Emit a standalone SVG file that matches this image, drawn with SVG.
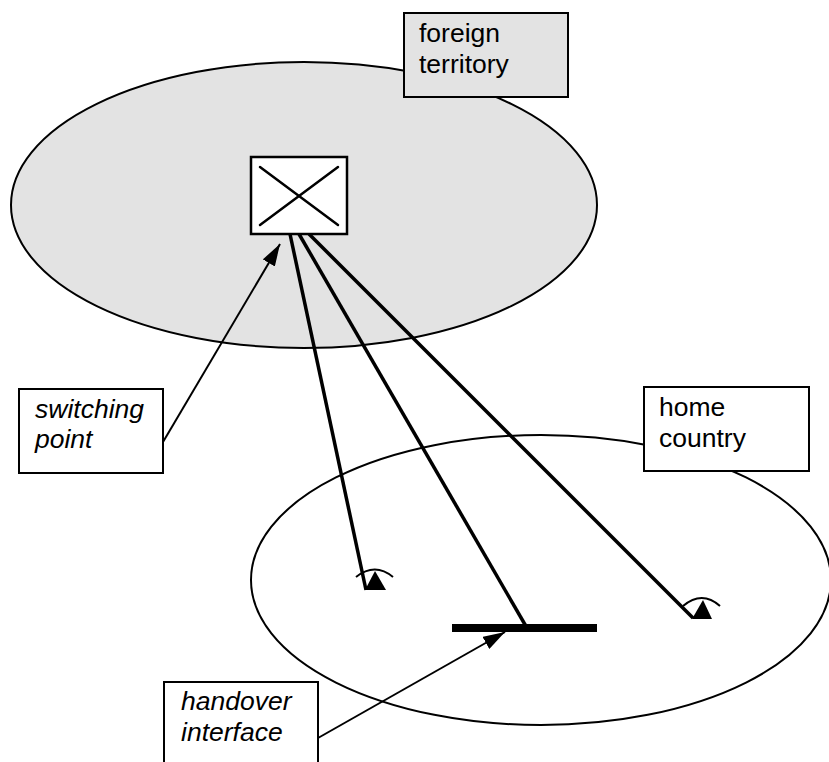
<svg xmlns="http://www.w3.org/2000/svg" width="829" height="762" viewBox="0 0 829 762">
<style>
.lbl{font-family:"Liberation Sans",Arial,sans-serif;font-size:26.5px;fill:#000}
.it{font-style:italic}
.box{stroke:#000;stroke-width:2}
.thick{stroke:#000;stroke-width:3.5;fill:none}
.thin{stroke:#000;stroke-width:2;fill:none}
.xl{stroke:#000;stroke-width:2.5;fill:none;stroke-linecap:round}
</style>
<defs>
<marker id="ah" markerUnits="userSpaceOnUse" markerWidth="22" markerHeight="14" refX="22" refY="7" orient="auto">
<path d="M0,0 L22,7 L0,14 Z" fill="#000"/>
</marker>
</defs>
<rect width="829" height="762" fill="#fff"/>
<g id="foreign-territory">
<ellipse cx="304" cy="205" rx="293" ry="143" fill="#e3e3e3" stroke="#000" stroke-width="2"/>
</g>
<g id="home-country">
<ellipse cx="541" cy="580" rx="290" ry="145" fill="none" stroke="#000" stroke-width="2"/>
</g>
<g id="connectors">
<line class="thick" x1="290" y1="234" x2="366" y2="590"/>
<line class="thick" x1="299" y1="234" x2="527" y2="628"/>
<line class="thick" x1="309" y1="234" x2="693" y2="618"/>
<line class="thin" x1="163" y1="442" x2="280" y2="244" marker-end="url(#ah)"/>
<line class="thin" x1="318" y1="738" x2="505" y2="632" marker-end="url(#ah)"/>
</g>
<g id="switch">
<rect x="251" y="157" width="96" height="77" fill="#fff" stroke="#000" stroke-width="2.5"/>
<line class="xl" x1="260" y1="167" x2="338" y2="225"/>
<line class="xl" x1="338" y1="167" x2="260" y2="225"/>
</g>
<g id="phone1">
<path d="M375,571 L365,590 L386,590 Z" fill="#000"/>
<path class="thin" d="M356,577 Q375,562 393,577"/>
</g>
<g id="phone2">
<path d="M703,600 L692,619 L712,619 Z" fill="#000"/>
<path class="thin" d="M683,606 Q702,590 720,606"/>
</g>
<g id="handover-bar">
<rect x="452" y="624" width="145" height="8" fill="#000"/>
</g>
<g id="label-foreign">
<rect class="box" x="404" y="13" width="164" height="84" fill="#e3e3e3"/>
<text class="lbl" x="419" y="42">foreign</text>
<text class="lbl" x="419" y="73">territory</text>
</g>
<g id="label-switching">
<rect class="box" x="19" y="389" width="144" height="84" fill="#fff"/>
<text class="lbl it" x="35" y="418">switching</text>
<text class="lbl it" x="35" y="448">point</text>
</g>
<g id="label-home">
<rect class="box" x="644" y="387" width="165" height="84" fill="#fff"/>
<text class="lbl" x="659" y="416">home</text>
<text class="lbl" x="659" y="447">country</text>
</g>
<g id="label-handover">
<rect class="box" x="164" y="682" width="154" height="90" fill="#fff"/>
<text class="lbl it" x="181" y="710">handover</text>
<text class="lbl it" x="181" y="741">interface</text>
</g>
</svg>
